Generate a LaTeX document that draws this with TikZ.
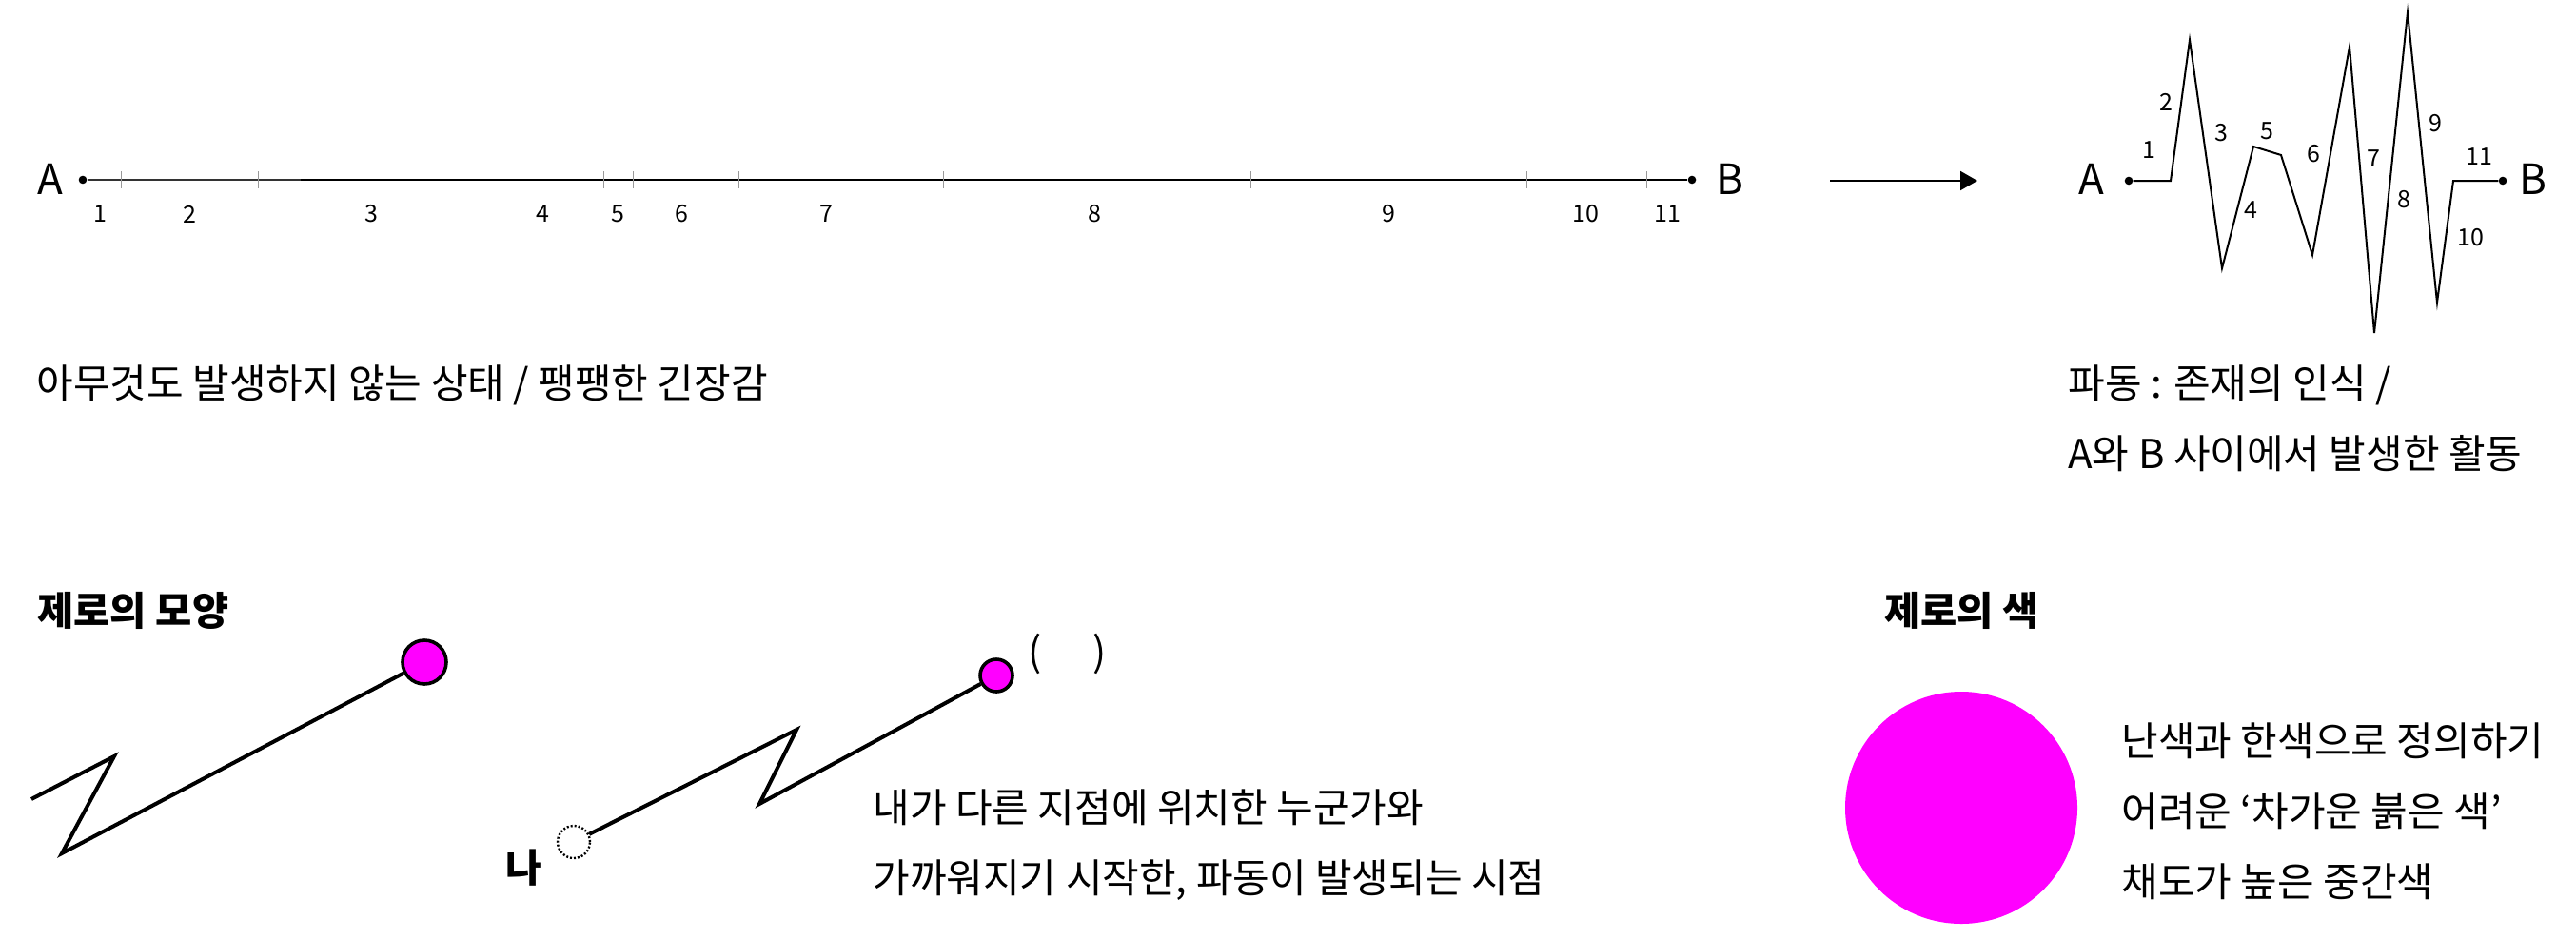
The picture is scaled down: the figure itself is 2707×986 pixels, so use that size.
\documentclass[tikz,border=0pt]{standalone}
\usepackage{fontspec}
\setmainfont{Noto Sans CJK KR}
\usepackage{tikz}
\usetikzlibrary{arrows.meta,positioning,calc}

\definecolor{zeropink}{RGB}{255,0,255}
\tikzset{
  body/.style={font=\fontsize{21pt}{37pt}\selectfont, inner sep=0pt, align=left},
  heading/.style={font=\bfseries\fontsize{20.8pt}{24pt}\selectfont, inner sep=0pt},
  num/.style={font=\fontsize{12.5pt}{14pt}\selectfont, inner sep=0pt},
  endlabel/.style={font=\fontsize{22pt}{24pt}\selectfont, inner sep=0pt},
  enddot/.style={circle, fill=black, inner sep=0pt, minimum size=4.3pt},
  tickmark/.style={black!40, line width=0.5pt},
  wave/.style={line width=1pt, line join=miter},
  zeroline/.style={line width=2pt, line join=miter},
  zeroball/.style={circle, draw=black, fill=zeropink, line width=1.8pt, inner sep=0pt},
}

\begin{document}
\begin{tikzpicture}[x=0.5pt,y=-0.5pt]
  \useasboundingbox (0,0) rectangle (2707,986);

  % the straight line A--B, nothing happens yet
  \node[enddot] (A1) at (87,189) {};
  \node[enddot] (B1) at (1778,189) {};
  \node[endlabel] (a1) at (53,188) {A};
  \node[endlabel] (b1) at (1818,188) {B};
  \coordinate (split) at (316,189);
  \draw[line width=0.8pt, black!80] (A1) -- (split);
  \draw[line width=1.3pt] (split) -- (B1);
  \foreach \t in {127,271,506,634,665,776,991,1314,1604,1730}
    \draw[tickmark] (\t,180) -- (\t,198);
  \foreach \x/\n in {105/1,199/2,390/3,570/4,649/5,716/6,868/7,1150/8,1459/9,1666/10,1752/11}
    \node[num] at (\x,225) {\n};

  \coordinate (arrS) at (1923,190);
  \coordinate (arrE) at (2078,190);
  \draw[line width=1pt, -{Triangle[length=9pt,width=10pt]}] (arrS) -- (arrE);

  % the same line, now a wave
  \node[enddot] (A2) at (2237,190) {};
  \node[enddot] (B2) at (2630,190) {};
  \node[endlabel] (a2) at (2198,188) {A};
  \node[endlabel] (b2) at (2662,188) {B};
  \draw[wave] (A2) -- (2281,190) -- (2301,42) -- (2335,282) -- (2368,154)
    -- (2397,163) -- (2430,268) -- (2469,49) -- (2495,350) -- (2530,13)
    -- (2561,318) -- (2578,190) -- (B2);
  \foreach \x/\y/\n in {2258/158/1,2276/107/2,2334/140/3,2365/221/4,2382/138/5,2431/162/6,
                        2494/167/7,2526/210/8,2559/130/9,2596/250/10,2605/165/11}
    \node[num] at (\x,\y) {\n};

  \node[body, anchor=west] (calm) at (38,405) {아무것도 발생하지 않는 상태 / 팽팽한 긴장감};
  \node[body, anchor=west] (wavetxt) at (2173,440) {파동 : 존재의 인식 /\\A와 B 사이에서 발생한 활동};

  % shape of zero
  \node[heading, anchor=west] (shape) at (39,642) {제로의 모양};
  \node[zeroball, minimum size=23pt] (ball1) at (446,696) {};
  \coordinate (zstart) at (33,840);
  \draw[zeroline] (zstart) -- (120,795) -- (65,897) -- (ball1);

  \node[circle, draw=black, line width=1.2pt, dash pattern=on 1pt off 1pt,
        minimum size=17pt, inner sep=0pt] (me) at (603,885) {};
  \node[zeroball, minimum size=17pt] (you) at (1047,710) {};
  \draw[zeroline] (me) -- (837,767) -- (798,845) -- (you);
  \node[font=\bfseries\fontsize{20.5pt}{22pt}\selectfont, inner sep=0pt] (na) at (550,912) {나};
  \node[font=\fontsize{21pt}{22pt}\selectfont, inner sep=0pt] (blank) at (1122,687) {(\hspace{27pt})};
  \node[body, anchor=west] (meet) at (917,888) {내가 다른 지점에 위치한 누군가와\\가까워지기 시작한, 파동이 발생되는 시점};

  % colour of zero
  \node[heading, anchor=west] (colour) at (1980,642) {제로의 색};
  \node[circle, fill=zeropink, minimum size=122pt, inner sep=0pt] (disc) at (2061,849) {};
  \node[body, anchor=west] (coldred) at (2229,853) {난색과 한색으로 정의하기\\어려운 ‘차가운 붉은 색’\\채도가 높은 중간색};
\end{tikzpicture}
\end{document}
